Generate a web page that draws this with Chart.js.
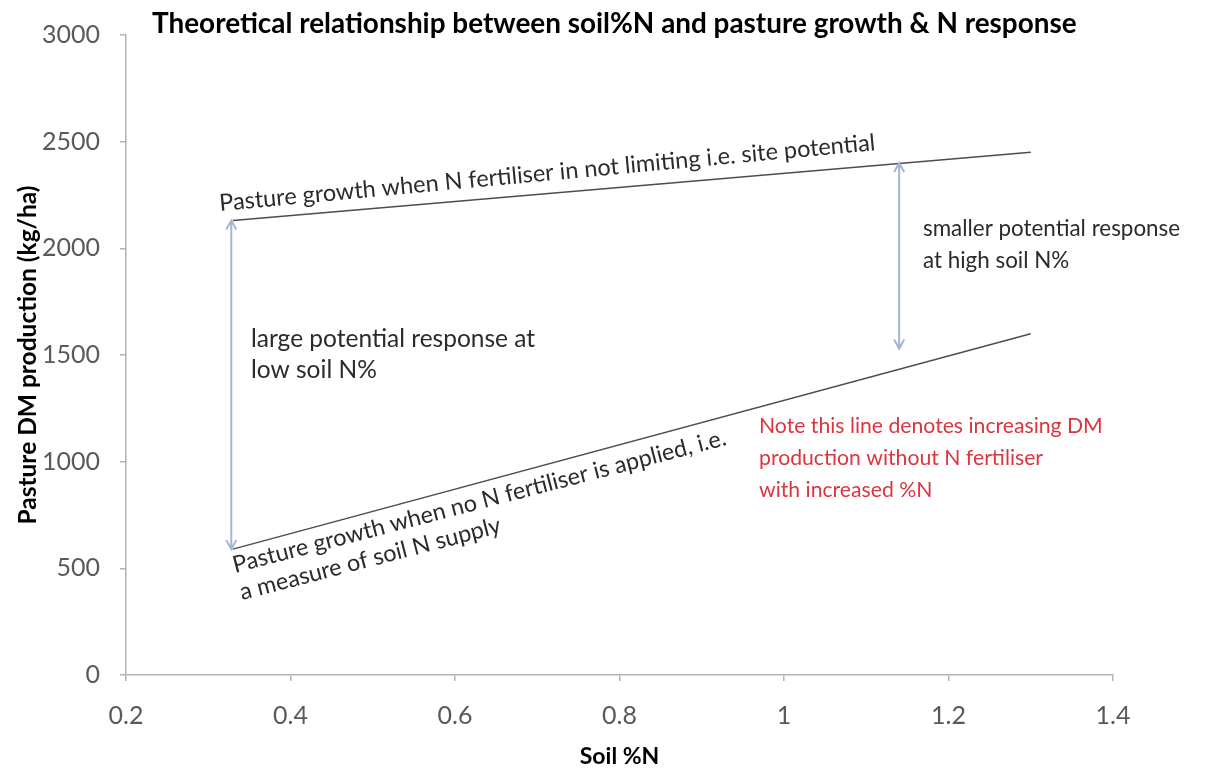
<!DOCTYPE html>
<html>
<head>
<meta charset="utf-8">
<script src="https://cdn.jsdelivr.net/npm/chart.js@4.4.1/dist/chart.umd.min.js"></script>
<style>
  html, body { margin: 0; padding: 0; background: #fff; }
  #wrap { width: 1219px; height: 772px; }
</style>
</head>
<body>
<div id="wrap"><canvas id="chart" width="1219" height="772"></canvas></div>
<script>
// data
const soilN = [0.33, 1.3];
const siteGrowth = [2130, 2450];      // N not limiting
const noFertGrowth = [590, 1600];     // no N fertiliser
const arrowX = [0.328, 1.14];
const arrowTop = [2130, 2400];
const arrowBottom = [590, 1530];
const xTicks = [0.2, 0.4, 0.6, 0.8, 1, 1.2, 1.4];
const yTicks = [0, 500, 1000, 1500, 2000, 2500, 3000];

const FONT = "Lato";
const TEXT = "#2b2b2b";
const AXIS = "#b3b3b3";

function toPoints(xs, ys) {
    return xs.map((x, i) => ({ x: x, y: ys[i] }));
}

// double headed arrows, placed with the chart scales
const arrowPlugin = {
    id: "arrows",
    afterDatasetsDraw(chart) {
        const ctx = chart.ctx;
        const xs = chart.scales.x, ys = chart.scales.y;
        ctx.save();
        ctx.strokeStyle = "#a3b6cf";
        ctx.lineWidth = 2;
        arrowX.forEach((v, i) => {
            const px = xs.getPixelForValue(v);
            const y1 = ys.getPixelForValue(arrowTop[i]);
            const y2 = ys.getPixelForValue(arrowBottom[i]);
            ctx.beginPath();
            ctx.moveTo(px, y1);
            ctx.lineTo(px, y2);
            // heads
            ctx.moveTo(px - 5, y1 + 9);
            ctx.lineTo(px, y1);
            ctx.lineTo(px + 5, y1 + 9);
            ctx.moveTo(px - 5, y2 - 9);
            ctx.lineTo(px, y2);
            ctx.lineTo(px + 5, y2 - 9);
            ctx.stroke();
        });
        ctx.restore();
    }
};

const notes = [
    { lines: ["Pasture growth when N fertiliser in not limiting i.e. site potential"], x: 220, y: 211, angle: -5.3, size: 23.5, gap: 31, color: TEXT },
    { lines: ["smaller potential response", "at high soil N%"], x: 923, y: 236, angle: 0, size: 22.4, gap: 32, color: TEXT },
    { lines: ["large potential response at", "low soil N%"], x: 251, y: 347, angle: 0, size: 24.5, gap: 31, color: TEXT },
    { lines: ["Pasture growth when no N fertiliser is applied, i.e.", "a measure of soil N supply"], x: 235, y: 573, angle: -14.6, size: 23.4, gap: 28, color: TEXT },
    { lines: ["Note this line denotes increasing DM", "production without N fertiliser", "with increased %N"], x: 759, y: 433, angle: 0, size: 21.2, gap: 32, color: "#dc3540" }
];

const textPlugin = {
    id: "texts",
    afterDraw(chart) {
        const ctx = chart.ctx;
        ctx.save();
        ctx.textBaseline = "alphabetic";
        ctx.textAlign = "left";
        ctx.fillStyle = "#000";
        ctx.font = "bold 27.9px " + FONT;
        ctx.fillText("Theoretical relationship between soil%N and pasture growth & N response", 152, 33);

        notes.forEach(n => {
            ctx.save();
            ctx.font = n.size + "px " + FONT;
            ctx.translate(n.x, n.y);
            ctx.rotate(n.angle * Math.PI / 180);
            ctx.fillStyle = n.color;
            n.lines.forEach((t, i) => ctx.fillText(t, 0, i * n.gap));
            ctx.restore();
        });
        ctx.restore();
    }
};

new Chart(document.getElementById("chart"), {
    type: "scatter",
    data: {
        datasets: [{
            label: "N not limiting",
            data: toPoints(soilN, siteGrowth),
            showLine: true,
            borderColor: "#4d4d4d",
            borderWidth: 1.5,
            pointRadius: 0
        }, {
            label: "No N fertiliser",
            data: toPoints(soilN, noFertGrowth),
            showLine: true,
            borderColor: "#4d4d4d",
            borderWidth: 1.5,
            pointRadius: 0
        }]
    },
    options: {
        responsive: false,
        animation: false,
        layout: { padding: { top: 34, right: 106, left: 0, bottom: 0 } },
        plugins: {
            legend: { display: false },
            tooltip: { enabled: false }
        },
        scales: {
            x: {
                type: "linear",
                min: 0.2,
                max: 1.4,
                afterBuildTicks: s => { s.ticks = xTicks.map(v => ({ value: v })); },
                afterFit: s => { s.height = 97; },
                grid: { drawOnChartArea: false, drawTicks: true, tickLength: 6, color: AXIS, lineWidth: 1.5 },
                border: { color: AXIS, width: 1.5 },
                ticks: { padding: 20, color: "#595959", font: { family: FONT, size: 25 }, callback: v => String(v) },
                title: { display: true, text: "Soil %N", color: "#000", font: { family: FONT, size: 23, weight: "bold" }, padding: { top: 0, bottom: 2 } }
            },
            y: {
                type: "linear",
                min: 0,
                max: 3000,
                afterBuildTicks: s => { s.ticks = yTicks.map(v => ({ value: v })); },
                afterFit: s => { s.width = 126; },
                grid: { drawOnChartArea: false, drawTicks: true, tickLength: 6, color: AXIS, lineWidth: 1.5 },
                border: { color: AXIS, width: 1.5 },
                ticks: { padding: 20, color: "#595959", font: { family: FONT, size: 25 }, callback: v => String(v) },
                title: { display: true, text: "Pasture DM production (kg/ha)", color: "#000", font: { family: FONT, size: 24.5, weight: "bold" }, padding: { top: 13, bottom: 0 } }
            }
        }
    },
    plugins: [arrowPlugin, textPlugin]
});
</script>
</body>
</html>
